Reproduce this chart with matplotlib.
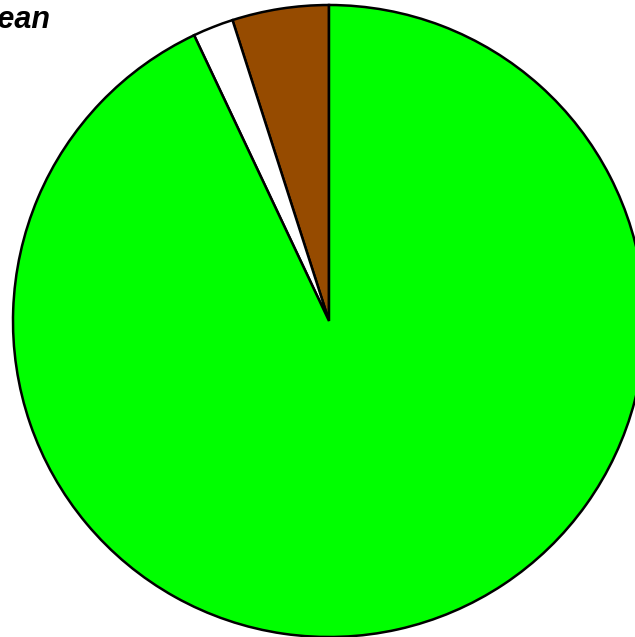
import matplotlib
matplotlib.use("Agg")
from matplotlib import pyplot as plt

labels = ['Brown', 'White', 'Green']
values = [4.94, 2.08, 92.98]
colors = ['#964B00', '#FFFFFF', '#00FF00']

W, H = 635, 637
cx, cy, r = 329, 321, 316  # pixel center / radius

fig = plt.figure(figsize=(W / 100, H / 100), dpi=100)
ax = fig.add_axes([0, 0, 1, 1])
ax.pie(values, colors=colors, startangle=90, counterclock=True,
       wedgeprops=dict(edgecolor='black', linewidth=1.8))
ax.set_aspect('auto')
ax.set_xlim(-cx / r, (W - cx) / r)
ax.set_ylim(-(H - cy) / r, cy / r)
ax.axis('off')

fig.text(50 / W, 1 - 28 / H, 'Mean', ha='right', va='baseline',
         fontsize=22, fontweight='bold', fontstyle='italic',
         family='Liberation Sans')

plt.savefig('out.png', dpi=100)
